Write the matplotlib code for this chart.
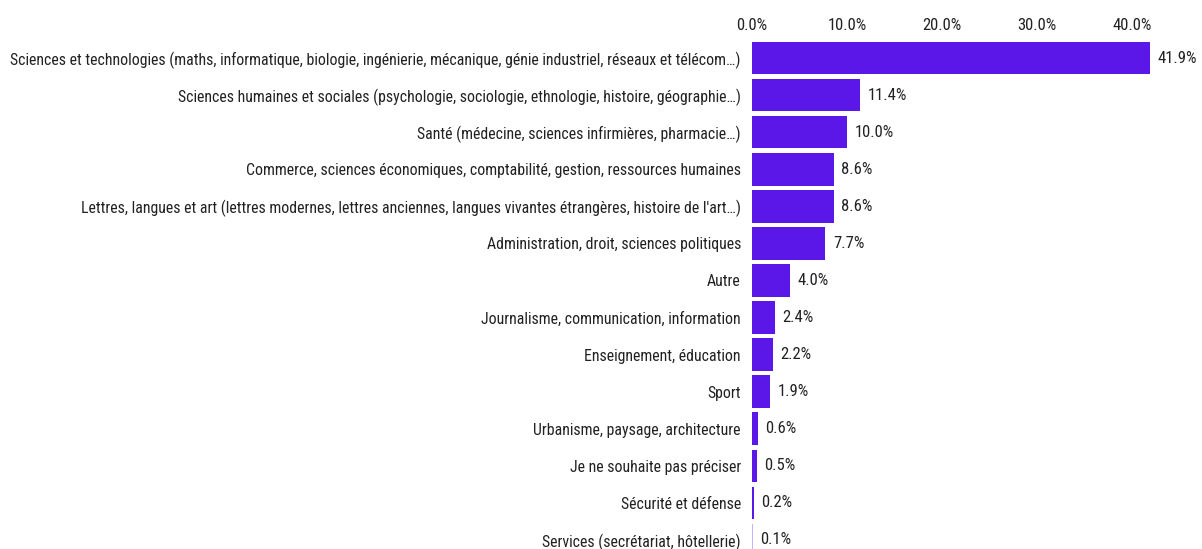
import numpy as np
import matplotlib
matplotlib.use("Agg")
import matplotlib.pyplot as plt
from matplotlib import font_manager
from matplotlib.ticker import FuncFormatter

# data
categories = [
    "Sciences et technologies (maths, informatique, biologie, ingénierie, mécanique, génie industriel, réseaux et télécom…)",
    "Sciences humaines et sociales (psychologie, sociologie, ethnologie, histoire, géographie…)",
    "Santé (médecine, sciences infirmières, pharmacie…)",
    "Commerce, sciences économiques, comptabilité, gestion, ressources humaines",
    "Lettres, langues et art (lettres modernes, lettres anciennes, langues vivantes étrangères, histoire de l'art…)",
    "Administration, droit, sciences politiques",
    "Autre",
    "Journalisme, communication, information",
    "Enseignement, éducation",
    "Sport",
    "Urbanisme, paysage, architecture",
    "Je ne souhaite pas préciser",
    "Sécurité et défense",
    "Services (secrétariat, hôtellerie)",
]
values = [41.9, 11.4, 10.0, 8.6, 8.6, 7.7, 4.0, 2.4, 2.2, 1.9, 0.6, 0.5, 0.2, 0.1]
x_ticks = [0, 10, 20, 30, 40]

# pick a narrow font if one is around
names = {f.name for f in font_manager.fontManager.ttflist}
family = "DejaVu Sans"
stretch = "normal"
for cand in ["Liberation Sans Narrow", "Roboto Condensed", "Open Sans Condensed", "DejaVu Sans Condensed"]:
    if cand in names:
        family = cand
        break
else:
    stretch = "condensed"
plt.rcParams["font.family"] = [family, "DejaVu Sans"]
plt.rcParams["font.stretch"] = stretch

bar_color = "#5b16e8"
text_color = "#222222"

fig = plt.figure(figsize=(12.02, 5.49), dpi=100)
fig.patch.set_facecolor("white")

# axes: 0% at x=752px, 10% per 95px; rows 37px apart starting at y=58
left = 752 / 1202
right = (752 + 45 * 9.5) / 1202
top = 1 - 39.5 / 549
bottom = 1 - 558.5 / 549
ax = fig.add_axes([left, bottom, right - left, top - bottom])

y = np.arange(len(values))
colors = [bar_color] * len(values)
colors[-1] = "#c9b5f6"
ax.barh(y, values, height=0.88, color=colors, edgecolor="none")

ax.set_xlim(0, 45)
ax.set_ylim(len(values) - 0.5, -0.5)
ax.set_yticks(y)
ax.set_yticklabels(categories, fontsize=11.4, color=text_color)
ax.set_xticks(x_ticks)
ax.xaxis.set_major_formatter(FuncFormatter(lambda v, p: "%.1f%%" % v))
ax.xaxis.tick_top()
ax.tick_params(axis="x", length=0, labelsize=12, labelcolor=text_color, pad=5)
ax.tick_params(axis="y", length=0, pad=8)
for s in ax.spines.values():
    s.set_visible(False)

for yi, v in zip(y, values):
    ax.text(v + 0.8, yi, "%.1f%%" % v, va="center", ha="left", fontsize=12, color=text_color)

fig.savefig("out.png", dpi=100)
